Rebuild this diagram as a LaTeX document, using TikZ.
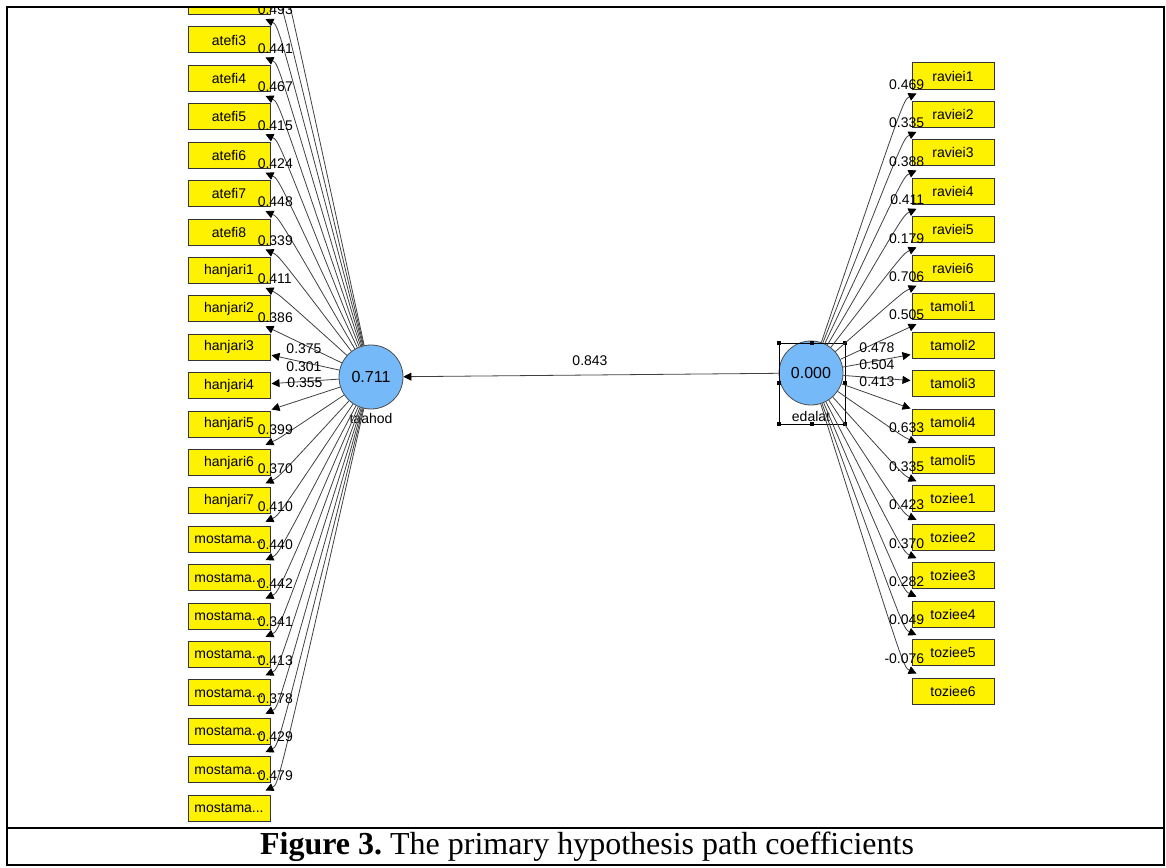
\documentclass[tikz,border=0pt]{standalone}
\usepackage{fontspec}
\setmainfont{Liberation Sans}
\newfontfamily\capfont{Liberation Serif}
\usetikzlibrary{arrows.meta,calc}
\definecolor{latblue}{RGB}{117,185,248}
\tikzset{
    ind/.style={draw=black!80, line width=0.75pt, fill=yellow, minimum width=61.5pt, minimum height=19.5pt, inner sep=0pt, font=\fontsize{10.5}{12}\selectfont},
    lat/.style={circle, draw=black!70, line width=0.6pt, fill=latblue, minimum size=48pt, inner sep=0pt, font=\fontsize{12}{14}\selectfont},
    latname/.style={font=\fontsize{10.5}{12}\selectfont, inner sep=0pt},
    coef/.style={font=\fontsize{10.5}{12}\selectfont, inner sep=0pt},
    load/.style={draw=black!75, line width=0.6pt, -{Triangle[length=6pt,width=6pt,color=black]}},
    handle/.style={fill=black, minimum size=3.5pt, inner sep=0pt}
}
\begin{document}
\begin{tikzpicture}[x=0.75pt,y=-0.75pt]
    \useasboundingbox (0,0) rectangle (1166,867);

    \begin{scope}
    \clip (7,7) rectangle (1164,828);

    % latent variables
    \node[lat] (tahod) at (371,377) {0.711};
    \node[latname] (tahodname) at (371,418) {taahod};
    \node[lat] (edalat) at (811,373) {0.000};
    \node[latname] (edalatname) at (811,416) {edalat};

    \draw[load] (edalat) -- (tahod);
    \node[coef] (inner) at (590,361) {0.843};

    % selection frame round edalat
    \draw[line width=0.5pt] (779,343) rectangle (845,424);
    \node[handle] (sel1) at (779,343) {};
    \node[handle] (sel2) at (812,343) {};
    \node[handle] (sel3) at (845,343) {};
    \node[handle] (sel4) at (779,383) {};
    \node[handle] (sel5) at (845,383) {};
    \node[handle] (sel6) at (779,424) {};
    \node[handle] (sel7) at (812,424) {};
    \node[handle] (sel8) at (845,424) {};

    % indicators of tahod
    \coordinate (hidden1) at (229,-75.2);
    \coordinate (hidden2) at (229,-36.8);
    \node[ind] (atefi2) at (229,1.6) {};
    \node[ind] (atefi3) at (229,40) {atefi3};
    \node[ind] (atefi4) at (229,78.4) {atefi4};
    \node[ind] (atefi5) at (229,116.8) {atefi5};
    \node[ind] (atefi6) at (229,155.2) {atefi6};
    \node[ind] (atefi7) at (229,193.6) {atefi7};
    \node[ind] (atefi8) at (229,232) {atefi8};
    \node[ind] (hanjari1) at (229,270.4) {hanjari1};
    \node[ind] (hanjari2) at (229,308.8) {hanjari2};
    \node[ind] (hanjari3) at (229,347.2) {hanjari3};
    \node[ind] (hanjari4) at (229,385.6) {hanjari4};
    \node[ind] (hanjari5) at (229,424) {hanjari5};
    \node[ind] (hanjari6) at (229,462.4) {hanjari6};
    \node[ind] (hanjari7) at (229,500.8) {hanjari7};
    \node[ind] (mostama1) at (229,539.2) {mostama...};
    \node[ind] (mostama2) at (229,577.6) {mostama...};
    \node[ind] (mostama3) at (229,616) {mostama...};
    \node[ind] (mostama4) at (229,654.4) {mostama...};
    \node[ind] (mostama5) at (229,692.8) {mostama...};
    \node[ind] (mostama6) at (229,731.2) {mostama...};
    \node[ind] (mostama7) at (229,769.6) {mostama...};
    \node[ind] (mostama8) at (229,808) {mostama...};

    \draw[load] (tahod) .. controls ($(hidden1)+(49,23)$) .. ($(hidden1)+(36,17)$);
    \draw[load] (tahod) .. controls ($(hidden2)+(49,23)$) .. ($(hidden2)+(36,17)$);
    \draw[load] (tahod) .. controls ($(atefi2.south east)+(8,10)$) .. ($(atefi2.south east)+(-5,4)$);
    \draw[load] (tahod) .. controls ($(atefi3.south east)+(8,10)$) .. ($(atefi3.south east)+(-5,4)$);
    \draw[load] (tahod) .. controls ($(atefi4.south east)+(8,10)$) .. ($(atefi4.south east)+(-5,4)$);
    \draw[load] (tahod) .. controls ($(atefi5.south east)+(8,10)$) .. ($(atefi5.south east)+(-5,4)$);
    \draw[load] (tahod) .. controls ($(atefi6.south east)+(8,10)$) .. ($(atefi6.south east)+(-5,4)$);
    \draw[load] (tahod) .. controls ($(atefi7.south east)+(8,10)$) .. ($(atefi7.south east)+(-5,4)$);
    \draw[load] (tahod) .. controls ($(atefi8.south east)+(8,10)$) .. ($(atefi8.south east)+(-5,4)$);
    \draw[load] (tahod) .. controls ($(hanjari1.south east)+(8,10)$) .. ($(hanjari1.south east)+(-5,4)$);
    \draw[load] (tahod) .. controls ($(hanjari2.south east)+(8,10)$) .. ($(hanjari2.south east)+(-5,4)$);
    \draw[load] (tahod) -- ($(hanjari3.east)+(1,8)$);
    \draw[load] (tahod) -- ($(hanjari4.east)+(1,-2)$);
    \draw[load] (tahod) -- ($(hanjari5.north east)+(1,-1)$);
    \draw[load] (tahod) .. controls ($(hanjari6.north east)+(8,-10)$) .. ($(hanjari6.north east)+(-5,-4)$);
    \draw[load] (tahod) .. controls ($(hanjari7.north east)+(8,-10)$) .. ($(hanjari7.north east)+(-5,-4)$);
    \draw[load] (tahod) .. controls ($(mostama1.north east)+(8,-10)$) .. ($(mostama1.north east)+(-5,-4)$);
    \draw[load] (tahod) .. controls ($(mostama2.north east)+(8,-10)$) .. ($(mostama2.north east)+(-5,-4)$);
    \draw[load] (tahod) .. controls ($(mostama3.north east)+(8,-10)$) .. ($(mostama3.north east)+(-5,-4)$);
    \draw[load] (tahod) .. controls ($(mostama4.north east)+(8,-10)$) .. ($(mostama4.north east)+(-5,-4)$);
    \draw[load] (tahod) .. controls ($(mostama5.north east)+(8,-10)$) .. ($(mostama5.north east)+(-5,-4)$);
    \draw[load] (tahod) .. controls ($(mostama6.north east)+(8,-10)$) .. ($(mostama6.north east)+(-5,-4)$);
    \draw[load] (tahod) .. controls ($(mostama7.north east)+(8,-10)$) .. ($(mostama7.north east)+(-5,-4)$);
    \draw[load] (tahod) .. controls ($(mostama8.north east)+(8,-10)$) .. ($(mostama8.north east)+(-5,-4)$);

    \node[coef, anchor=west] at ($(atefi2.south east)+(-13,-5)$) {0.493};
    \node[coef, anchor=west] at ($(atefi3.south east)+(-13,-5)$) {0.441};
    \node[coef, anchor=west] at ($(atefi4.south east)+(-13,-5)$) {0.467};
    \node[coef, anchor=west] at ($(atefi5.south east)+(-13,-5)$) {0.415};
    \node[coef, anchor=west] at ($(atefi6.south east)+(-13,-5)$) {0.424};
    \node[coef, anchor=west] at ($(atefi7.south east)+(-13,-5)$) {0.448};
    \node[coef, anchor=west] at ($(atefi8.south east)+(-13,-5)$) {0.339};
    \node[coef, anchor=west] at ($(hanjari1.south east)+(-13,-5)$) {0.411};
    \node[coef, anchor=west] at ($(hanjari2.south east)+(-13,-5)$) {0.386};
    \node[coef] at (304,349) {0.375};
    \node[coef] at (304,367) {0.301};
    \node[coef] at (305,383) {0.355};
    \node[coef, anchor=west] at ($(hanjari6.north east)+(-13,-19)$) {0.399};
    \node[coef, anchor=west] at ($(hanjari7.north east)+(-13,-19)$) {0.370};
    \node[coef, anchor=west] at ($(mostama1.north east)+(-13,-19)$) {0.410};
    \node[coef, anchor=west] at ($(mostama2.north east)+(-13,-19)$) {0.440};
    \node[coef, anchor=west] at ($(mostama3.north east)+(-13,-19)$) {0.442};
    \node[coef, anchor=west] at ($(mostama4.north east)+(-13,-19)$) {0.341};
    \node[coef, anchor=west] at ($(mostama5.north east)+(-13,-19)$) {0.413};
    \node[coef, anchor=west] at ($(mostama6.north east)+(-13,-19)$) {0.378};
    \node[coef, anchor=west] at ($(mostama7.north east)+(-13,-19)$) {0.429};
    \node[coef, anchor=west] at ($(mostama8.north east)+(-13,-19)$) {0.479};

    % indicators of edalat
    \node[ind] (raviei1) at (953,76) {raviei1};
    \node[ind] (raviei2) at (953,114.4) {raviei2};
    \node[ind] (raviei3) at (953,152.9) {raviei3};
    \node[ind] (raviei4) at (953,191.3) {raviei4};
    \node[ind] (raviei5) at (953,229.8) {raviei5};
    \node[ind] (raviei6) at (953,268.2) {raviei6};
    \node[ind] (tamoli1) at (953,306.6) {tamoli1};
    \node[ind] (tamoli2) at (953,345.1) {tamoli2};
    \node[ind] (tamoli3) at (953,383.5) {tamoli3};
    \node[ind] (tamoli4) at (953,422) {tamoli4};
    \node[ind] (tamoli5) at (953,460.4) {tamoli5};
    \node[ind] (toziee1) at (953,498.8) {toziee1};
    \node[ind] (toziee2) at (953,537.3) {toziee2};
    \node[ind] (toziee3) at (953,575.7) {toziee3};
    \node[ind] (toziee4) at (953,614.2) {toziee4};
    \node[ind] (toziee5) at (953,652.6) {toziee5};
    \node[ind] (toziee6) at (953,691) {toziee6};

    \draw[load] (edalat) .. controls ($(raviei1.south west)+(-8,10)$) .. ($(raviei1.south west)+(5,4)$);
    \draw[load] (edalat) .. controls ($(raviei2.south west)+(-8,10)$) .. ($(raviei2.south west)+(5,4)$);
    \draw[load] (edalat) .. controls ($(raviei3.south west)+(-8,10)$) .. ($(raviei3.south west)+(5,4)$);
    \draw[load] (edalat) .. controls ($(raviei4.south west)+(-8,10)$) .. ($(raviei4.south west)+(5,4)$);
    \draw[load] (edalat) .. controls ($(raviei5.south west)+(-8,10)$) .. ($(raviei5.south west)+(5,4)$);
    \draw[load] (edalat) .. controls ($(raviei6.south west)+(-8,10)$) .. ($(raviei6.south west)+(5,4)$);
    \draw[load] (edalat) .. controls ($(tamoli1.south west)+(-8,10)$) .. ($(tamoli1.south west)+(5,4)$);
    \draw[load] (edalat) -- ($(tamoli2.south west)+(-1,-4)$);
    \draw[load] (edalat) -- ($(tamoli3.west)+(-1,-3)$);
    \draw[load] (edalat) -- ($(tamoli4.north west)+(-1,0)$);
    \draw[load] (edalat) .. controls ($(tamoli5.north west)+(-8,-10)$) .. ($(tamoli5.north west)+(5,-4)$);
    \draw[load] (edalat) .. controls ($(toziee1.north west)+(-8,-10)$) .. ($(toziee1.north west)+(5,-4)$);
    \draw[load] (edalat) .. controls ($(toziee2.north west)+(-8,-10)$) .. ($(toziee2.north west)+(5,-4)$);
    \draw[load] (edalat) .. controls ($(toziee3.north west)+(-8,-10)$) .. ($(toziee3.north west)+(5,-4)$);
    \draw[load] (edalat) .. controls ($(toziee4.north west)+(-8,-10)$) .. ($(toziee4.north west)+(5,-4)$);
    \draw[load] (edalat) .. controls ($(toziee5.north west)+(-8,-10)$) .. ($(toziee5.north west)+(5,-4)$);
    \draw[load] (edalat) .. controls ($(toziee6.north west)+(-8,-10)$) .. ($(toziee6.north west)+(5,-4)$);

    \node[coef, anchor=east] at ($(raviei1.south west)+(13,-5)$) {0.469};
    \node[coef, anchor=east] at ($(raviei2.south west)+(13,-5)$) {0.335};
    \node[coef, anchor=east] at ($(raviei3.south west)+(13,-5)$) {0.388};
    \node[coef, anchor=east] at ($(raviei4.south west)+(13,-5)$) {0.411};
    \node[coef, anchor=east] at ($(raviei5.south west)+(13,-5)$) {0.179};
    \node[coef, anchor=east] at ($(raviei6.south west)+(13,-5)$) {0.706};
    \node[coef, anchor=east] at ($(tamoli1.south west)+(13,-5)$) {0.505};
    \node[coef] at (877,348) {0.478};
    \node[coef] at (877,365) {0.504};
    \node[coef] at (877,382) {0.413};
    \node[coef, anchor=east] at ($(tamoli5.north west)+(13,-19)$) {0.633};
    \node[coef, anchor=east] at ($(toziee1.north west)+(13,-19)$) {0.335};
    \node[coef, anchor=east] at ($(toziee2.north west)+(13,-19)$) {0.423};
    \node[coef, anchor=east] at ($(toziee3.north west)+(13,-19)$) {0.370};
    \node[coef, anchor=east] at ($(toziee4.north west)+(13,-19)$) {0.282};
    \node[coef, anchor=east] at ($(toziee5.north west)+(13,-19)$) {0.049};
    \node[coef, anchor=east] at ($(toziee6.north west)+(13,-19)$) {-0.076};
    \end{scope}

    % frame and caption
    \draw[line width=1.5pt] (7,7) rectangle (1164,865);
    \draw[line width=1.5pt] (7,828) -- (1164,828);
    \node[font=\capfont\fontsize{24}{27}\selectfont] (caption) at (587,847) {\textbf{Figure 3.}\ The primary hypothesis path coefficients};

\end{tikzpicture}
\end{document}
